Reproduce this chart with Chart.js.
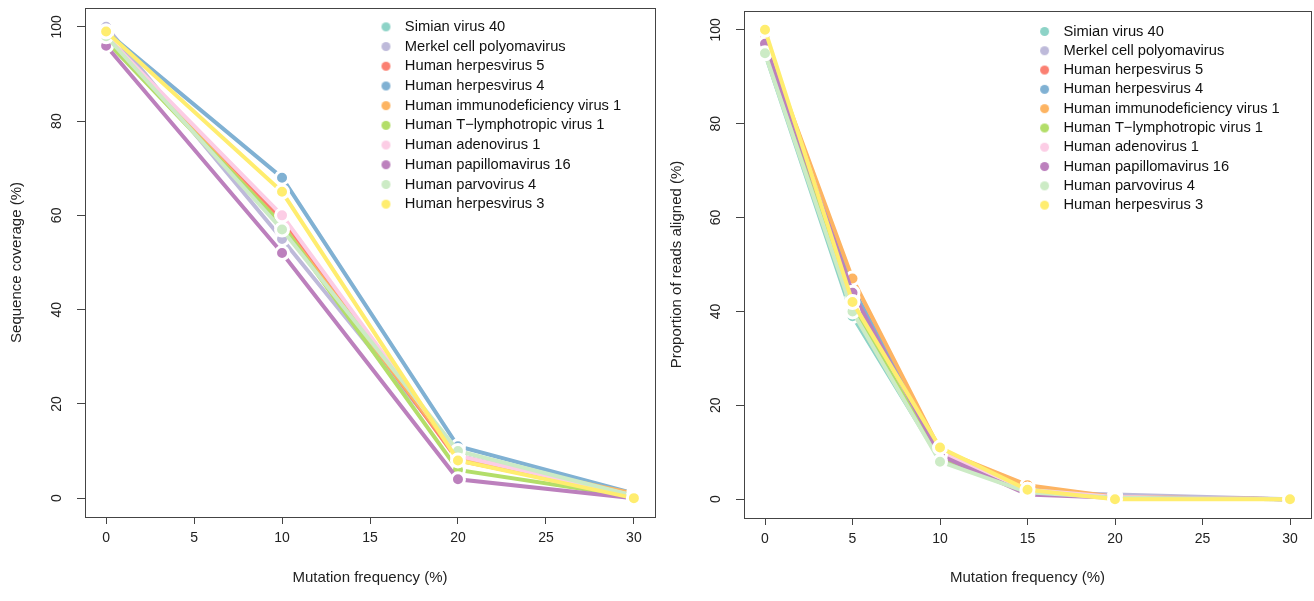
<!DOCTYPE html>
<html>
<head>
<meta charset="utf-8">
<script src="https://cdn.jsdelivr.net/npm/chart.js@4.4.1/dist/chart.umd.min.js"></script>
<style>
  html, body { margin: 0; padding: 0; background: #fff; }
  .panel { position: absolute; top: 0; height: 601px; }
  #p1 { left: 0; width: 660px; }
  #p2 { left: 660px; width: 654px; }
</style>
</head>
<body>
<div class="panel" id="p1"><canvas id="coverageChart"></canvas></div>
<div class="panel" id="p2"><canvas id="readsChart"></canvas></div>
<script>
Chart.defaults.maintainAspectRatio = false;
Chart.defaults.animation = false;
Chart.defaults.font.family = "'Liberation Sans', Arial, sans-serif";
Chart.defaults.color = '#222';

const viruses = ['Simian virus 40', 'Merkel cell polyomavirus', 'Human herpesvirus 5', 'Human herpesvirus 4',
  'Human immunodeficiency virus 1', 'Human T\u2212lymphotropic virus 1', 'Human adenovirus 1',
  'Human papillomavirus 16', 'Human parvovirus 4', 'Human herpesvirus 3'];
const colors = ['#8DD3C7', '#BEBADA', '#FB8072', '#80B1D3', '#FDB462', '#B3DE69', '#FCCDE5', '#BC80BD', '#CCEBC5', '#FFED6F'];

// left panel: sequence coverage
const coverageX = [0, 10, 20, 30];
const coverage = [
  [98, 59, 9, 0],    // Simian virus 40
  [100, 55, 9, 0.5], // Merkel cell polyomavirus
  [98, 59, 8, 0.5],  // Human herpesvirus 5
  [99, 68, 11, 1],   // Human herpesvirus 4
  [98, 58, 8.7, 1],  // HIV 1
  [97, 58, 6, 0.3],  // HTLV 1
  [98, 60, 9, 0.5],  // Human adenovirus 1
  [96, 52, 4, 0],    // Human papillomavirus 16
  [98, 57, 10, 0.5], // Human parvovirus 4
  [99, 65, 8, 0]     // Human herpesvirus 3
];

// right panel: proportion of reads aligned
const readsX = [0, 5, 10, 15, 20, 30];
const reads = [
  [95, 39, 8.5, 1.5, 0.5, 0],   // Simian virus 40
  [97, 43, 9, 1.5, 1, 0],       // Merkel cell polyomavirus
  [97.5, 45, 10, 2.5, 0.5, 0],  // Human herpesvirus 5
  [97, 45, 9.5, 2, 0.5, 0],     // Human herpesvirus 4
  [97.5, 47, 10.5, 3, 0.5, 0],  // HIV 1
  [96, 41, 9, 2, 0.3, 0],       // HTLV 1
  [98.7, 43, 10, 2, 0.5, 0],    // Human adenovirus 1
  [97, 44, 9.4, 1, 0.3, 0],     // Human papillomavirus 16
  [95, 40, 8, 1.5, 0.3, 0],     // Human parvovirus 4
  [100, 42, 11, 2, 0, 0]        // Human herpesvirus 3
];

const xTicks = [0, 5, 10, 15, 20, 25, 30];
const yTicks = [0, 20, 40, 60, 80, 100];

// small dot images for the legend, dot sits left of the box so text gets a bigger gap
function legendDot(color) {
  const c = document.createElement('canvas');
  c.width = 20; c.height = 13;
  const g = c.getContext('2d');
  g.fillStyle = color;
  g.beginPath();
  g.arc(5.5, 6.5, 4.5, 0, Math.PI * 2);
  g.fill();
  return c;
}
const dots = colors.map(legendDot);

const boxPlugin = {
  id: 'box',
  afterLayout(chart) {
    const l = chart.legend, pos = chart.options.plugins.box;
    const w = l.right - l.left, h = l.bottom - l.top;
    l.left = pos.x; l.right = pos.x + w;
    l.top = pos.y; l.bottom = pos.y + h;
  },
  afterDraw(chart) {
    const a = chart.chartArea, ctx = chart.ctx;
    ctx.save();
    ctx.strokeStyle = '#444';
    ctx.lineWidth = 1;
    ctx.strokeRect(Math.round(a.left) + 0.5, Math.round(a.top) + 0.5, Math.round(a.right - a.left), Math.round(a.bottom - a.top));
    ctx.restore();
  }
};

function makeChart(id, xs, values, yTitle, geo) {
  const datasets = viruses.map((name, i) => ({
    label: name,
    data: xs.map((x, j) => ({ x: x, y: values[i][j] })),
    borderColor: colors[i],
    backgroundColor: colors[i],
    borderWidth: 4,
    pointRadius: 6.5,
    pointBorderWidth: 3,
    pointBorderColor: '#fff',
    pointBackgroundColor: colors[i],
    tension: 0,
    order: viruses.length - i
  }));
  return new Chart(document.getElementById(id), {
    type: 'line',
    data: { datasets: datasets },
    plugins: [boxPlugin],
    options: {
      responsive: true,
      layout: { autoPadding: false, padding: { top: geo.top, right: geo.right, left: 0, bottom: 0 } },
      plugins: {
        box: { x: geo.legX, y: geo.legY },
        legend: {
          position: 'chartArea',
          align: 'start',
          labels: {
            usePointStyle: true,
            boxWidth: 14,
            boxHeight: 10,
            padding: geo.legPad,
            color: '#111',
            font: { size: 14.7 },
            generateLabels(chart) {
              return chart.data.datasets.map((d, i) => ({
                text: d.label, fillStyle: d.backgroundColor, strokeStyle: d.backgroundColor,
                lineWidth: 0, pointStyle: dots[i], datasetIndex: i, fontColor: '#111'
              }));
            }
          }
        },
        tooltip: { enabled: false }
      },
      scales: {
        x: {
          type: 'linear', min: -1.2, max: 31.2,
          afterBuildTicks(s) { s.ticks = xTicks.map(v => ({ value: v })); },
          afterFit(s) { s.height = geo.xh; s.paddingLeft = 0; s.paddingRight = 0; },
          grid: { drawOnChartArea: false, drawTicks: true, tickLength: 7, tickColor: '#444' },
          border: { display: false },
          ticks: { font: { size: 14 }, color: '#222', padding: 6, maxRotation: 0 },
          title: { display: true, text: 'Mutation frequency (%)', font: { size: 15 }, color: '#222', padding: { top: 3, bottom: 14 } }
        },
        y: {
          type: 'linear', min: -4, max: 104,
          afterBuildTicks(s) { s.ticks = yTicks.map(v => ({ value: v })); },
          afterFit(s) { s.width = geo.yw; s.paddingTop = 0; s.paddingBottom = 0; },
          grid: { drawOnChartArea: false, drawTicks: true, tickLength: 8, tickColor: '#444' },
          border: { display: false },
          ticks: { font: { size: 14 }, color: '#222', padding: 8, minRotation: 90, maxRotation: 90, crossAlign: 'center' },
          title: { display: true, text: yTitle, font: { size: 15 }, color: '#222', padding: { top: 8, bottom: 0 } }
        }
      }
    }
  });
}

const coverageChart = makeChart('coverageChart', coverageX, coverage, 'Sequence coverage (%)',
  { top: 8, right: 5, yw: 85, xh: 84, legX: 378.5, legY: 14.5, legPad: 5 });
const readsChart = makeChart('readsChart', readsX, reads, 'Proportion of reads aligned (%)',
  { top: 11, right: 3, yw: 84, xh: 83, legX: 377.5, legY: 19.5, legPad: 4.6 });
</script>
</body>
</html>
